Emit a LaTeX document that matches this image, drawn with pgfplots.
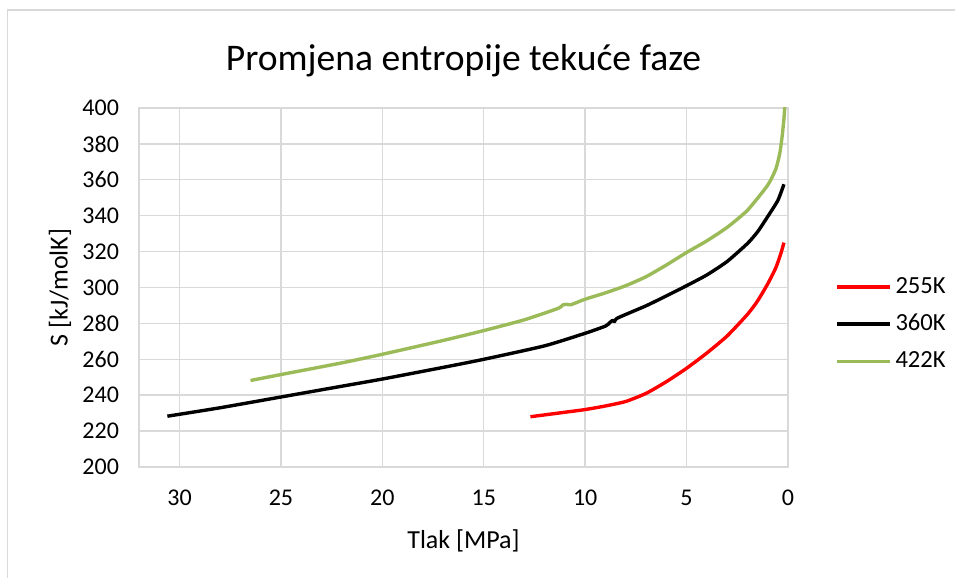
\documentclass[border=0pt]{standalone}
\usepackage{pgfplots}
\pgfplotsset{compat=1.18}
\usepackage{fontspec}
\setmainfont{Carlito}
\definecolor{gridgray}{HTML}{D9D9D9}
\definecolor{exgreen}{HTML}{9BBB59}
\begin{document}
\begin{tikzpicture}
\useasboundingbox (0pt,0pt) rectangle (477.5pt,289pt);
\draw[gridgray,line width=0.8pt] (3.8pt,0pt) -- (3.8pt,284pt) -- (477.5pt,284pt);
\begin{axis}[
  at={(69.5pt,55.5pt)}, anchor=south west,
  scale only axis, width=324.5pt, height=179.5pt,
  x dir=reverse,
  xmin=0, xmax=32, ymin=200, ymax=400,
  xtick={0,5,...,30}, ytick={200,220,...,400},
  grid=major,
  major grid style={gridgray, line width=0.7pt},
  axis line style={gridgray, line width=0.7pt},
  major tick length=0pt,
  tick label style={font=\fontsize{12}{14}\selectfont},
  /pgf/number format/assume math mode=true,
  xticklabel style={yshift=-8pt},
  yticklabel style={xshift=-6.5pt},
  xlabel={Tlak [MPa]}, ylabel={S [kJ/molK]},
  label style={font=\fontsize{13}{15}\selectfont},
  xlabel style={yshift=-5pt},
  ylabel style={at={(axis description cs:-0.1217,0.5)}, anchor=center},
  title={Promjena entropije tekuće faze},
  title style={font=\fontsize{18.8}{22}\selectfont, yshift=6pt},
  legend style={at={(1.072,0.398)}, anchor=west, draw=none, fill=none,
    font=\fontsize{12.3}{14}\selectfont, row sep=5pt, inner sep=0pt,
    cells={anchor=west}},
  legend image code/.code={\draw[#1] (0pt,0pt) -- (26.5pt,0pt);},
  every axis plot/.append style={line width=1.7pt, line join=round, smooth, tension=0.35},
  clip=true,
]
\addplot[red] coordinates {
(12.7,228) (11,230.5) (10,232) (9,234) (8,236.5) (7,241) (6,247.5)
(5,255) (4,263.5) (3,273) (2,285) (1.5,292.5) (1,302) (0.6,311) (0.35,319) (0.2,325)
};
\addlegendentry{255K}
\addplot[black] coordinates {
(30.6,228.3) (28,233) (25,239) (22,245) (20,249) (17,255.5) (15,260)
(12,267.5) (10,274.5) (9,278.5) (8.8,280.3) (8.65,281.7) (8.55,281) (8.4,283)
(7,289.8) (6,295.3) (5,301) (4,307) (3,314.5) (2,324.5) (1.5,331) (1,339.5) (0.5,348.5) (0.2,357.5)
};
\addlegendentry{360K}
\addplot[exgreen] coordinates {
(26.5,248.2) (25,251.5) (22,258) (20,262.8) (17,270.5) (15,276) (13,282)
(11.35,288.3) (11.1,290.3) (10.9,290.6) (10.7,290.4) (10,293.5) (9,297) (8,301) (7,306)
(6,312.5) (5,319.5) (4,326) (3,333.5) (2,343) (1,357) (0.6,366) (0.4,375) (0.28,385) (0.2,394) (0.15,402)
};
\addlegendentry{422K}
\end{axis}
\end{tikzpicture}
\end{document}
